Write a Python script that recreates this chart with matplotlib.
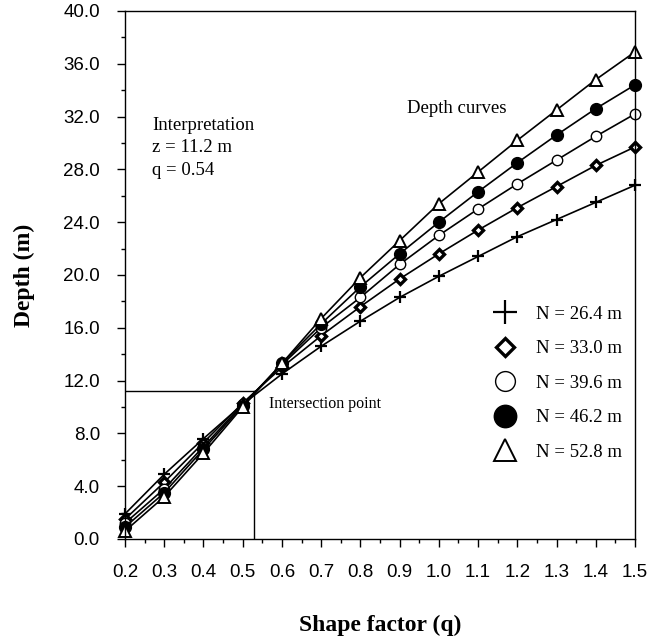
import matplotlib.pyplot as plt
import numpy as np
from matplotlib.ticker import MultipleLocator, FormatStrFormatter

# shape factor values and depth curves for each N
q = [0.2, 0.3, 0.4, 0.5, 0.6, 0.7, 0.8, 0.9, 1.0, 1.1, 1.2, 1.3, 1.4, 1.5]
n_labels = ["N = 26.4 m", "N = 33.0 m", "N = 39.6 m", "N = 46.2 m", "N = 52.8 m"]
depth_264 = [1.9, 4.9, 7.6, 10.2, 12.5, 14.6, 16.5, 18.3, 19.9, 21.4, 22.9, 24.2, 25.5, 26.8]
depth_330 = [1.5, 4.3, 7.3, 10.3, 13.0, 15.4, 17.6, 19.7, 21.6, 23.4, 25.1, 26.7, 28.3, 29.7]
depth_396 = [1.2, 3.8, 7.0, 10.2, 13.2, 16.0, 18.3, 20.8, 23.0, 25.0, 26.9, 28.7, 30.5, 32.2]
depth_462 = [0.9, 3.5, 6.8, 10.1, 13.3, 16.3, 19.1, 21.6, 24.0, 26.3, 28.5, 30.6, 32.6, 34.4]
depth_528 = [0.6, 3.2, 6.5, 10.0, 13.3, 16.7, 19.8, 22.6, 25.4, 27.8, 30.2, 32.5, 34.8, 36.9]

z_int = 11.2
q_int = 0.53

serif = "Liberation Serif"
sans = "Liberation Sans"

fig = plt.figure(figsize=(6.49, 6.38), dpi=100)
ax = fig.add_axes([0.1926, 0.1552, 0.7858, 0.8276])

styles = [
    dict(marker="+", ms=9, mew=1.6, mfc="black", mec="black"),
    dict(marker="D", ms=5, mew=2.4, mfc="white", mec="black"),
    dict(marker="o", ms=7.5, mew=1.0, mfc="white", mec="black"),
    dict(marker="o", ms=8.5, mew=1.0, mfc="black", mec="black"),
    dict(marker="^", ms=8, mew=1.4, mfc="white", mec="black"),
]
series = [depth_264, depth_330, depth_396, depth_462, depth_528]

for d, lab, st in zip(series, n_labels, styles):
    ax.plot(q, d, color="black", lw=1.2, label=lab, clip_on=False, **st)

# intersection guide lines
ax.plot([0.2, q_int], [z_int, z_int], color="black", lw=1.0)
ax.plot([q_int, q_int], [0, z_int], color="black", lw=1.0)

ax.set_xlim(0.2, 1.5)
ax.set_ylim(0, 40)
ax.xaxis.set_major_locator(MultipleLocator(0.1))
ax.xaxis.set_minor_locator(MultipleLocator(0.05))
ax.yaxis.set_major_locator(MultipleLocator(4))
ax.yaxis.set_minor_locator(MultipleLocator(2))
ax.xaxis.set_major_formatter(FormatStrFormatter("%.1f"))
ax.yaxis.set_major_formatter(FormatStrFormatter("%.1f"))
ax.tick_params(which="major", direction="out", length=6, width=1, pad=12,
               labelsize=13.5)
ax.tick_params(which="minor", direction="out", length=3, width=1)
ax.tick_params(axis="y", which="major", pad=12)
for lbl in ax.get_xticklabels() + ax.get_yticklabels():
    lbl.set_fontfamily(sans)
for s in ax.spines.values():
    s.set_linewidth(1.0)

ax.set_xlabel("Shape factor (q)", fontfamily=serif, fontweight="bold",
              fontsize=17, labelpad=24)
ax.set_ylabel("Depth (m)", fontfamily=serif, fontweight="bold",
              fontsize=17, labelpad=20)

ax.text(0.27, 32.0, "Interpretation\nz = 11.2 m\nq = 0.54", fontfamily=serif,
        fontsize=13.5, va="top", ha="left", linespacing=1.45)
ax.text(0.92, 32.6, "Depth curves", fontfamily=serif, fontsize=13.5,
        va="center", ha="left")
ax.text(0.567, 10.2, "Intersection point", fontfamily=serif, fontsize=11.5,
        va="center", ha="left")

leg = ax.legend(loc="center left", bbox_to_anchor=(0.69, 0.295), frameon=False,
                markerscale=1.9, handlelength=1.2, handletextpad=1.05,
                labelspacing=0.92, prop={"family": serif, "size": 13.5})
for h in leg.get_lines():
    h.set_linestyle("none")

fig.savefig("out.png", dpi=100)
